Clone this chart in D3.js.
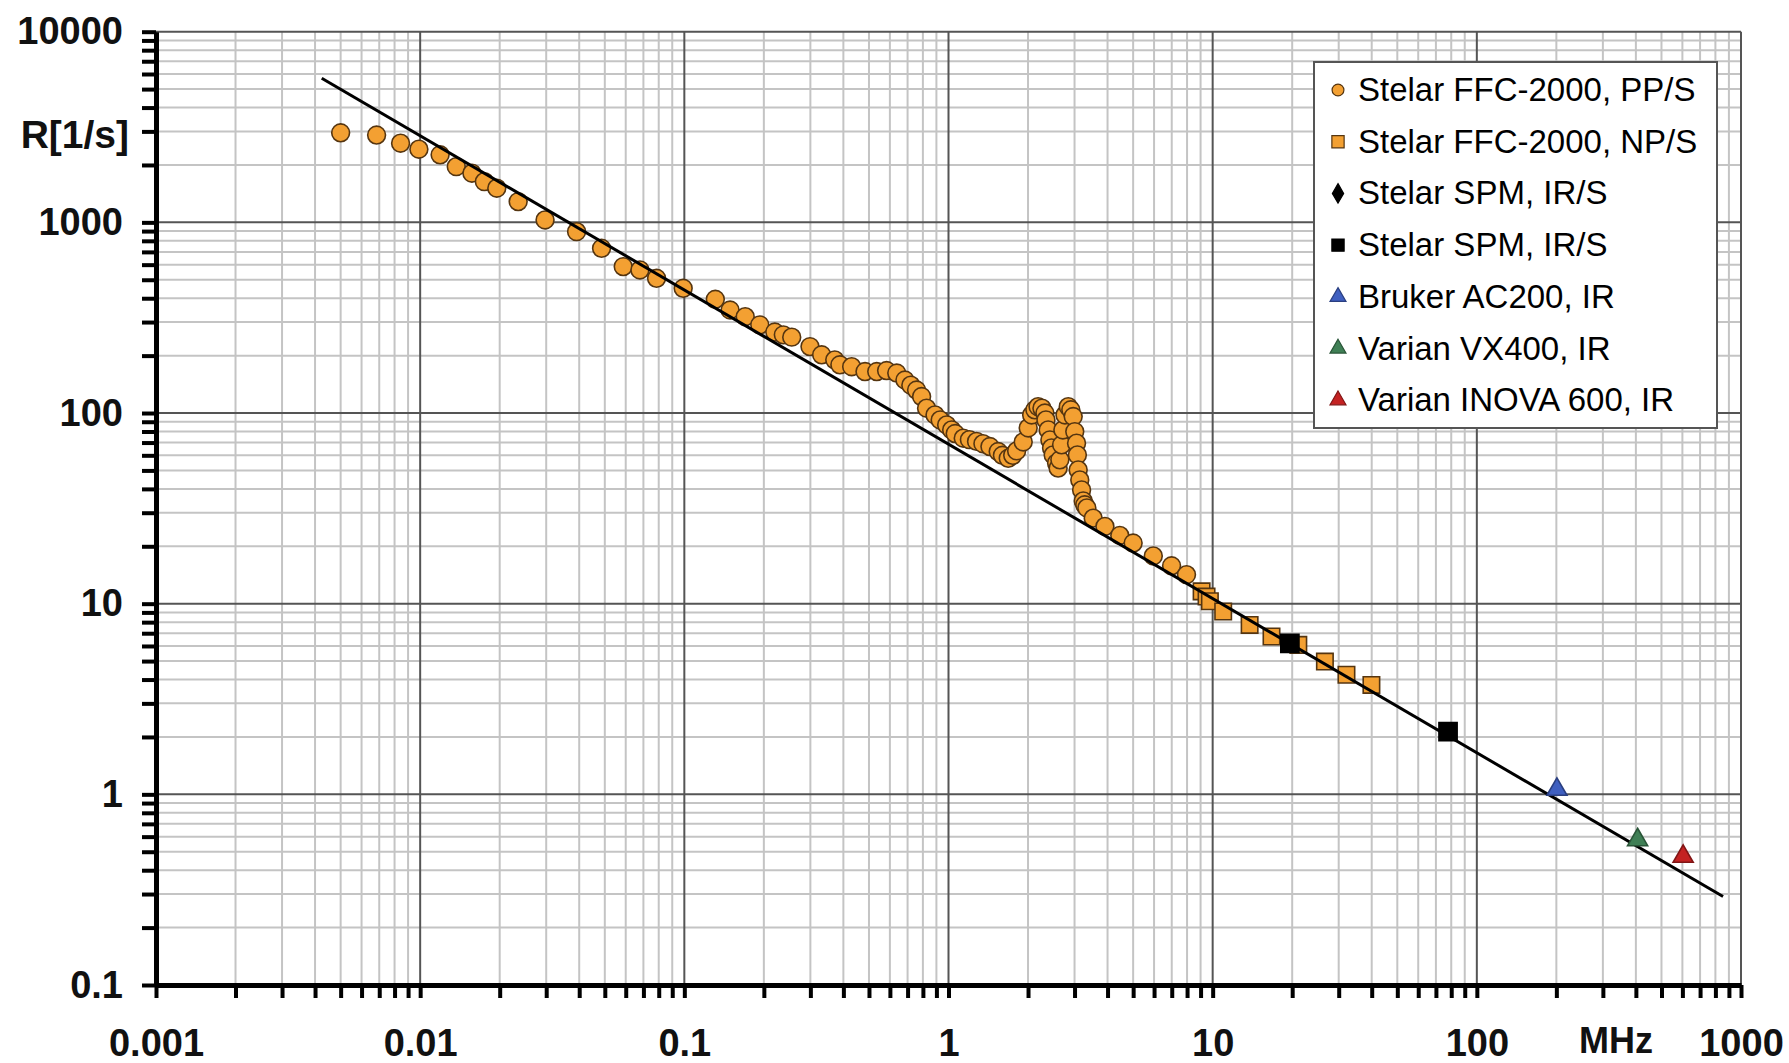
<!DOCTYPE html>
<html><head><meta charset="utf-8">
<script src="https://cdn.jsdelivr.net/npm/d3@7"></script>
<style>
body{margin:0;background:#fff}
svg{display:block}
text{font-family:"Liberation Sans",Arial,sans-serif}
</style>
</head><body>
<svg id="chart" width="1789" height="1063"></svg>
<script>
// ---------- data ----------
const xDomain = [0.001, 1000];
const yDomain = [0.1, 10000];
const xTickLabels = ["0.001", "0.01", "0.1", "1", "10", "100", "1000"];
const yTickLabels = ["0.1", "1", "10", "100", "1000", "10000"];
const xAxisTitle = "MHz";
const yAxisTitle = "R[1/s]";

// [frequency MHz, R 1/s]
const ffcPPS = [
  [0.0050,2950],[0.00684,2870],[0.00843,2600],[0.00989,2420],[0.0119,2260],[0.0137,1960],
  [0.0157,1810],[0.0175,1635],[0.0195,1510],[0.0235,1285],[0.0297,1030],[0.0391,894],
  [0.0486,731],[0.0587,586],[0.0679,563],[0.0785,509],[0.099,451],[0.131,395],[0.149,347],
  [0.170,320],[0.193,290],[0.220,266],[0.237,257],[0.255,250],[0.299,223],[0.331,202],
  [0.371,190],[0.388,179],[0.430,175],[0.483,165],[0.535,165],[0.583,167],[0.637,162],
  [0.684,149],[0.72,140],[0.757,132],[0.791,122],[0.826,106],[0.889,97.7],[0.93,92],
  [0.984,86.6],[1.028,81.5],[1.06,78],[1.137,73.8],[1.2,72.5],[1.277,71.0],[1.35,69],
  [1.435,66.7],[1.542,62.8],[1.6,60],[1.683,57.9],[1.75,60],[1.811,63.3],[1.918,70.5],
  [2.003,83.5],[2.064,97.7],[2.123,104],[2.183,108],[2.258,106],[2.317,100],[2.338,92],
  [2.384,81.5],[2.42,72.2],[2.455,65.6],[2.49,60.3],[2.565,54.7],[2.60,51.4],[2.64,56.8],
  [2.68,68.1],[2.71,81.5],[2.76,97.7],[2.84,108],[2.904,104],[2.965,95.8],[3.006,79.9],
  [3.053,69.5],[3.075,60.3],[3.097,50.3],[3.14,44.6],[3.19,39.5],[3.236,34.6],[3.28,33],
  [3.34,31.8],[3.53,28.1],[3.91,25.4],[4.45,22.8],[5.0,20.8],[5.96,17.8],[6.99,15.8],[7.96,14.2]
];
const ffcNPS = [
  [9.08,11.6],[9.48,10.9],[9.76,10.3],[10.96,9.1],[13.8,7.74],[16.7,6.73],
  [21.1,6.08],[26.6,4.97],[32.1,4.24],[39.9,3.75]
];
const spmDiamond = [];
const spmSquare = [[19.6,6.2],[77.8,2.13]];
const brukerAC200 = [[201,1.06]];
const varianVX400 = [[406,0.577]];
const varianINOVA600 = [[604,0.472]];
const fitLine = [[0.00424,5700],[855,0.291]];

const legendLabels = [
  "Stelar FFC-2000, PP/S","Stelar FFC-2000, NP/S","Stelar SPM, IR/S","Stelar SPM, IR/S",
  "Bruker AC200, IR","Varian VX400, IR","Varian INOVA 600, IR"
];

// ---------- styles ----------
const orange = "#f3a032", orangeStroke = "#553510";
const series = [
  {data: ffcPPS, type: d3.symbolCircle, size: 250, fill: orange, stroke: orangeStroke, lsize: 110},
  {data: ffcNPS, type: d3.symbolSquare, size: 270, fill: orange, stroke: orangeStroke, lsize: 150},
  {data: spmDiamond, type: d3.symbolDiamond, size: 200, fill: "#000", stroke: "#000", lsize: 110},
  {data: spmSquare, type: d3.symbolSquare, size: 330, fill: "#000", stroke: "#000", lsize: 150},
  {data: brukerAC200, type: d3.symbolTriangle, size: 175, fill: "#3f5fc0", stroke: "#2a3f80", lsize: 110},
  {data: varianVX400, type: d3.symbolTriangle, size: 175, fill: "#3f7f55", stroke: "#2a5538", lsize: 110},
  {data: varianINOVA600, type: d3.symbolTriangle, size: 175, fill: "#c42222", stroke: "#801515", lsize: 110}
];

const svg = d3.select("#chart");
const x = d3.scaleLog().domain(xDomain).range([156, 1741]);
const y = d3.scaleLog().domain(yDomain).range([985, 31.7]);

function decadeValues(dom) {
  const major = [], minor = [];
  for (let e = Math.round(Math.log10(dom[0])); e <= Math.round(Math.log10(dom[1])); e++) {
    const d = Math.pow(10, e);
    major.push(d);
    if (d < dom[1]) for (let k = 2; k <= 9; k++) minor.push(+(k * d).toPrecision(3));
  }
  return {major, minor};
}
const xv = decadeValues(xDomain), yv = decadeValues(yDomain);

// grid
const grid = svg.append("g");
grid.selectAll(".vmin").data(xv.minor).join("line")
  .attr("x1", d => x(d)).attr("x2", d => x(d)).attr("y1", y(yDomain[1])).attr("y2", y(yDomain[0]))
  .attr("stroke", "#c4c4c4").attr("stroke-width", 2);
grid.selectAll(".hmin").data(yv.minor).join("line")
  .attr("y1", d => y(d)).attr("y2", d => y(d)).attr("x1", x(xDomain[0])).attr("x2", x(xDomain[1]))
  .attr("stroke", "#c4c4c4").attr("stroke-width", 2);
grid.selectAll(".vmaj").data(xv.major).join("line")
  .attr("x1", d => x(d)).attr("x2", d => x(d)).attr("y1", y(yDomain[1])).attr("y2", y(yDomain[0]))
  .attr("stroke", "#555").attr("stroke-width", 2);
grid.selectAll(".hmaj").data(yv.major).join("line")
  .attr("y1", d => y(d)).attr("y2", d => y(d)).attr("x1", x(xDomain[0])).attr("x2", x(xDomain[1]))
  .attr("stroke", "#555").attr("stroke-width", 2);

// axes
const xLab = new Map(xv.major.map((v, i) => [v, xTickLabels[i]]));
const yLab = new Map(yv.major.map((v, i) => [v, yTickLabels[i]]));
const xAxis = svg.append("g").attr("transform", `translate(0,${y(yDomain[0])})`)
  .call(d3.axisBottom(x).tickValues(xv.major.concat(xv.minor)).tickSize(13).tickSizeOuter(0)
    .tickPadding(31).tickFormat(v => xLab.get(v) || ""));
const yAxis = svg.append("g").attr("transform", `translate(${x(xDomain[0])},0)`)
  .call(d3.axisLeft(y).tickValues(yv.major.concat(yv.minor)).tickSize(14).tickSizeOuter(0)
    .tickPadding(19).tickFormat(v => yLab.get(v) || ""));
[xAxis, yAxis].forEach(g => {
  g.select(".domain").attr("stroke", "#000").attr("stroke-width", 5);
  g.selectAll(".tick line").attr("stroke", "#000").attr("stroke-width", 4);
  g.selectAll(".tick text").attr("fill", "#111").attr("font-size", 38).attr("font-weight", "bold")
    .style("font-family", "'Liberation Sans', Arial, sans-serif");
});

svg.append("text").attr("x", 1616).attr("y", 1053).attr("text-anchor", "middle")
  .attr("font-size", 36).attr("font-weight", "bold").attr("fill", "#111").text(xAxisTitle);
svg.append("text").attr("x", 129).attr("y", 148).attr("text-anchor", "end")
  .attr("font-size", 39).attr("font-weight", "bold").attr("fill", "#111").text(yAxisTitle);

// markers
const sym = (t, s) => d3.symbol().type(t).size(s)();
function drawSeries(s) {
  svg.append("g").selectAll("path").data(s.data).join("path")
    .attr("d", sym(s.type, s.size))
    .attr("transform", d => `translate(${x(d[0])},${y(d[1])})`)
    .attr("fill", s.fill).attr("stroke", s.stroke).attr("stroke-width", 1.6);
}
drawSeries(series[0]);
drawSeries(series[1]);
svg.append("path").datum(fitLine)
  .attr("d", d3.line().x(d => x(d[0])).y(d => y(d[1])))
  .attr("fill", "none").attr("stroke", "#000").attr("stroke-width", 3);
series.slice(2).forEach(drawSeries);

// legend
const lg = svg.append("g");
lg.append("rect").attr("x", 1314).attr("y", 62).attr("width", 403).attr("height", 366)
  .attr("fill", "#fff").attr("stroke", "#555").attr("stroke-width", 2);
legendLabels.forEach((lab, i) => {
  const cy = 90 + i * 51.7;
  const s = series[i];
  lg.append("path").attr("d", sym(s.type, s.lsize)).attr("transform", `translate(1338,${cy})`)
    .attr("fill", s.fill).attr("stroke", s.stroke).attr("stroke-width", 1.2);
  lg.append("text").attr("x", 1358).attr("y", cy + 11).attr("font-size", 33)
    .attr("fill", "#000").text(lab);
});
</script>
</body></html>
